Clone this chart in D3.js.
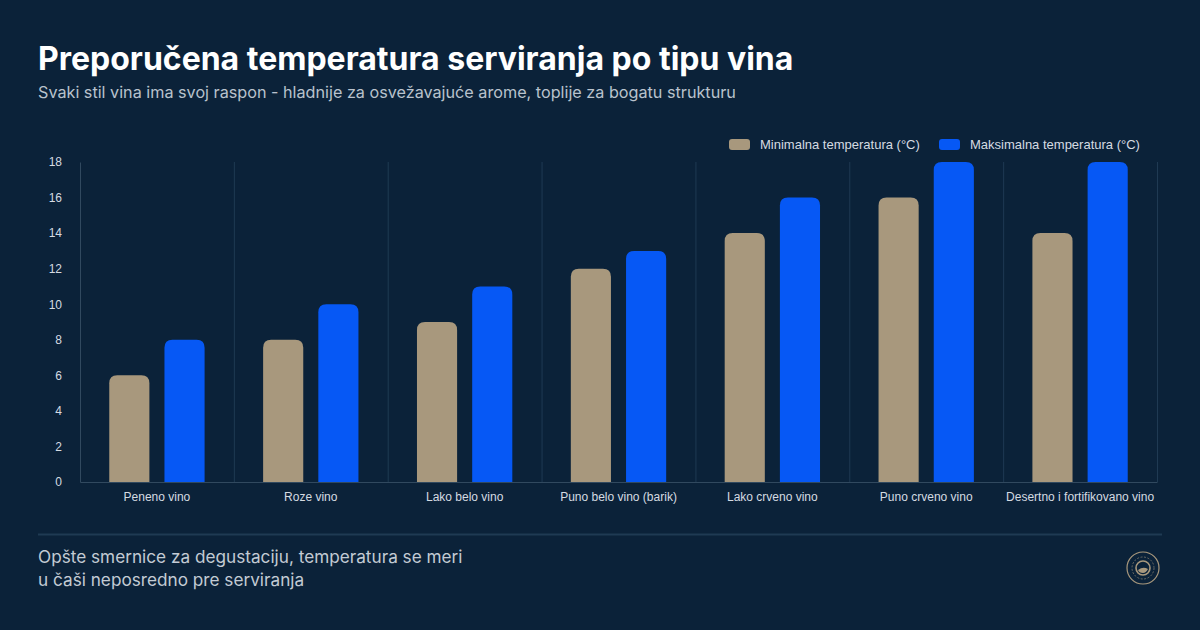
<!DOCTYPE html>
<html>
<head>
<meta charset="utf-8">
<script src="https://cdn.jsdelivr.net/npm/d3@7"></script>
<style>
    html, body { margin: 0; padding: 0; background: #0b2239; }
    svg { display: block; font-family: Inter, "Noto Sans", sans-serif; }
</style>
</head>
<body>
<svg id="chart" width="1200" height="630"></svg>
<script>
// podaci
var categories = ['Peneno vino', 'Roze vino', 'Lako belo vino', 'Puno belo vino (barik)',
    'Lako crveno vino', 'Puno crveno vino', 'Desertno i fortifikovano vino'];
var minTemps = [6, 8, 9, 12, 14, 16, 14];
var maxTemps = [8, 10, 11, 13, 16, 18, 18];
var seriesNames = ['Minimalna temperatura (°C)', 'Maksimalna temperatura (°C)'];
var yTicks = [0, 2, 4, 6, 8, 10, 12, 14, 16, 18];

var colors = ['#a8987d', '#0658f5'];

var svg = d3.select('#chart');

svg.append('rect')
    .attr('width', 1200)
    .attr('height', 630)
    .attr('fill', '#0b2239');

// naslov
svg.append('text')
    .attr('x', 38)
    .attr('y', 70)
    .attr('font-size', 32)
    .attr('font-weight', 700)
    .attr('fill', '#ffffff')
    .text('Preporučena temperatura serviranja po tipu vina');

svg.append('text')
    .attr('x', 38)
    .attr('y', 98)
    .attr('font-size', 16.2)
    .attr('fill', '#b9c2cd')
    .text('Svaki stil vina ima svoj raspon - hladnije za osvežavajuće arome, toplije za bogatu strukturu');

var plotLeft = 80, plotRight = 1157, plotTop = 162, plotBottom = 482;

var x = d3.scaleBand()
    .domain(categories)
    .range([plotLeft, plotRight]);

var inner = d3.scaleBand()
    .domain([0, 1])
    .range([0, x.bandwidth()])
    .paddingInner(0.273)
    .paddingOuter(0.53);

var y = d3.scaleLinear()
    .domain([0, 18])
    .range([plotBottom, plotTop]);

// mreža
svg.append('g')
    .selectAll('line')
    .data(categories.slice(1))
    .join('line')
    .attr('x1', d => x(d) + 0.5)
    .attr('x2', d => x(d) + 0.5)
    .attr('y1', plotTop)
    .attr('y2', plotBottom)
    .attr('stroke', '#1f3a53')
    .attr('stroke-width', 1);

svg.append('line')
    .attr('x1', plotRight + 0.5)
    .attr('x2', plotRight + 0.5)
    .attr('y1', plotTop)
    .attr('y2', plotBottom)
    .attr('stroke', '#1f3a53');

// ose
var yAxis = svg.append('g')
    .attr('transform', `translate(${plotLeft},0)`)
    .call(d3.axisLeft(y).tickValues(yTicks).tickSize(0).tickPadding(18));

yAxis.select('.domain').attr('stroke', '#31495f');
yAxis.selectAll('text')
    .attr('fill', '#d5dbe2')
    .attr('font-size', 12)
    .attr('font-family', 'Liberation Sans, Arial, sans-serif');

var xAxis = svg.append('g')
    .attr('transform', `translate(0,${plotBottom})`)
    .call(d3.axisBottom(x).tickSize(0).tickPadding(10));

xAxis.select('.domain').attr('stroke', '#31495f');
xAxis.selectAll('text')
    .attr('fill', '#d5dbe2')
    .attr('font-size', 12)
    .attr('font-family', 'Liberation Sans, Arial, sans-serif');

// stubići sa zaobljenim vrhom
function barPath(x0, w, y0, y1, r) {
    r = Math.min(r, w / 2, y0 - y1);
    return `M${x0},${y0} L${x0},${y1 + r} Q${x0},${y1} ${x0 + r},${y1} ` +
        `L${x0 + w - r},${y1} Q${x0 + w},${y1} ${x0 + w},${y1 + r} L${x0 + w},${y0} Z`;
}

var series = [minTemps, maxTemps];

series.forEach(function (values, si) {
    svg.append('g')
        .selectAll('path')
        .data(values)
        .join('path')
        .attr('d', (d, i) => barPath(x(categories[i]) + inner(si), inner.bandwidth(), y(0), y(d), 8))
        .attr('fill', colors[si]);
});

// legenda
var legend = svg.append('g')
    .attr('font-family', 'Liberation Sans, Arial, sans-serif')
    .attr('font-size', 13);

var legendX = [729, 939];
seriesNames.forEach(function (name, i) {
    var g = legend.append('g').attr('transform', `translate(${legendX[i]},139)`);
    g.append('rect')
        .attr('width', 21)
        .attr('height', 11)
        .attr('rx', 3)
        .attr('fill', colors[i]);
    g.append('text')
        .attr('x', 31)
        .attr('y', 10)
        .attr('fill', '#d5dbe2')
        .text(name);
});

// podnožje
svg.append('line')
    .attr('x1', 38)
    .attr('x2', 1162)
    .attr('y1', 534.5)
    .attr('y2', 534.5)
    .attr('stroke', '#1f3a53')
    .attr('stroke-width', 2);

var foot = svg.append('text')
    .attr('font-size', 17.2)
    .attr('fill', '#c3cbd4');

foot.append('tspan').attr('x', 38).attr('y', 563).text('Opšte smernice za degustaciju, temperatura se meri');
foot.append('tspan').attr('x', 38).attr('y', 586).text('u čaši neposredno pre serviranja');

// logo
var logo = svg.append('g').attr('transform', 'translate(1143,568)');
logo.append('circle')
    .attr('r', 16)
    .attr('fill', 'none')
    .attr('stroke', '#a8987d')
    .attr('stroke-width', 1.2);
logo.append('circle')
    .attr('r', 11)
    .attr('fill', 'none')
    .attr('stroke', '#a8987d')
    .attr('stroke-width', 0.6)
    .attr('stroke-dasharray', '2,1.5');
logo.append('circle')
    .attr('r', 7)
    .attr('fill', 'none')
    .attr('stroke', '#a8987d')
    .attr('stroke-width', 1.6);
logo.append('path')
    .attr('d', 'M-5,2 Q0,-2 5,1 Q3,5 0,5 Q-4,5 -5,2 Z')
    .attr('fill', '#a8987d');
</script>
</body>
</html>
